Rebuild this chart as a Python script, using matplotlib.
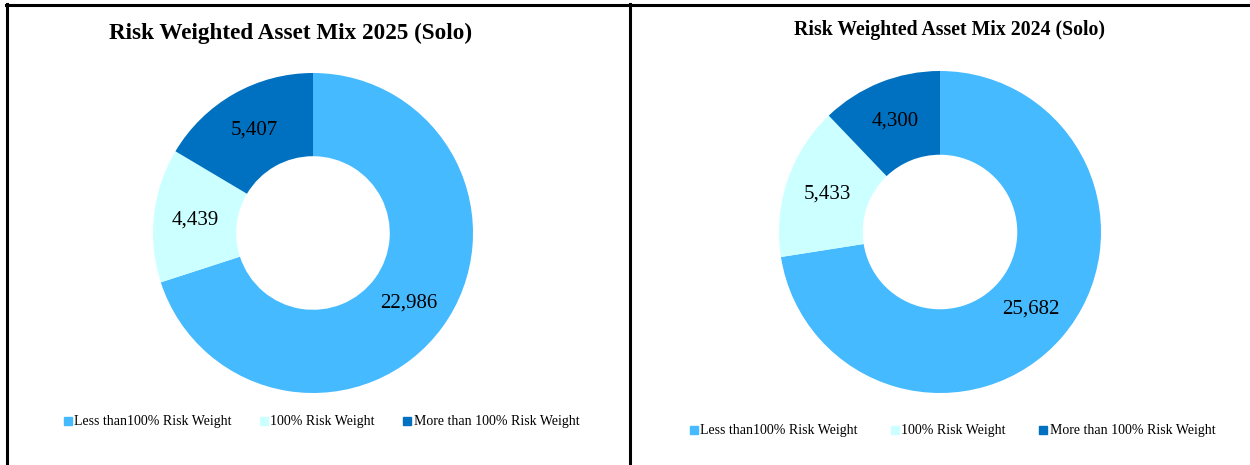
import matplotlib
matplotlib.use("Agg")
import matplotlib.pyplot as plt
import numpy as np
from matplotlib.patches import Rectangle
from matplotlib.lines import Line2D

categories = ["Less than100% Risk Weight", "100% Risk Weight", "More than 100% Risk Weight"]
values_2025 = [22986, 4439, 5407]
values_2024 = [25682, 5433, 4300]
titles = ["Risk Weighted Asset Mix 2025 (Solo)", "Risk Weighted Asset Mix 2024 (Solo)"]
colors = ["#45BAFF", "#CCFFFF", "#0070C0"]

W, H = 1250, 465
fig = plt.figure(figsize=(W / 100, H / 100), dpi=100)
plt.rcParams['font.family'] = ['Liberation Serif', 'DejaVu Serif']

def px_axes(cx, cy, r):
    return fig.add_axes([(cx - r) / W, 1 - (cy + r) / H, 2 * r / W, 2 * r / H])

def donut(ax, vals):
    ax.pie(vals, colors=colors, startangle=90, counterclock=False,
           radius=1.0, wedgeprops=dict(width=0.52, edgecolor='none'))
    total = sum(vals)
    start = 90.0
    for v in vals:
        ang = start - 360.0 * v / total / 2
        start -= 360.0 * v / total
        rr = 1.0 - 0.52 / 2
        ax.text(rr * np.cos(np.radians(ang)), rr * np.sin(np.radians(ang)), f"{v:,}",
                ha='center', va='center', fontsize=15, color='black')
    ax.set_xlim(-1, 1); ax.set_ylim(-1, 1)
    ax.set_aspect('equal')
    ax.axis('off')

ax1 = px_axes(313, 233, 160)
donut(ax1, values_2025)
ax2 = px_axes(940, 232, 161)
donut(ax2, values_2024)

# titles
fig.text(290.5 / W, 1 - 33 / H, titles[0], ha='center', va='center', fontsize=16.7, fontweight='bold')
fig.text(950 / W, 1 - 30 / H, titles[1], ha='center', va='center', fontsize=14.2, fontweight='bold')

# legends
def legend(x_positions, y, fs):
    for x, c, lab in zip(x_positions, colors, categories):
        s = 7.5
        fig.patches.append(Rectangle((x / W, 1 - (y + s / 2) / H), s / W, s / H,
                                     transform=fig.transFigure, color=c))
        fig.text((x + s + 3) / W, 1 - y / H, lab, ha='left', va='center', fontsize=fs)

legend([64, 260, 403], 421, 10)
legend([690, 891, 1039], 430, 10)

# frame lines
fig.add_artist(Line2D([7 / W, 7 / W], [0, 1 - 4 / H], color='black', lw=2.2, transform=fig.transFigure))
fig.add_artist(Line2D([630 / W, 630 / W], [0, 1 - 4 / H], color='black', lw=2.2, transform=fig.transFigure))
fig.add_artist(Line2D([6 / W, 1], [1 - 5 / H, 1 - 5 / H], color='black', lw=2.2, transform=fig.transFigure))

fig.savefig("out.png", dpi=100, facecolor='white')
